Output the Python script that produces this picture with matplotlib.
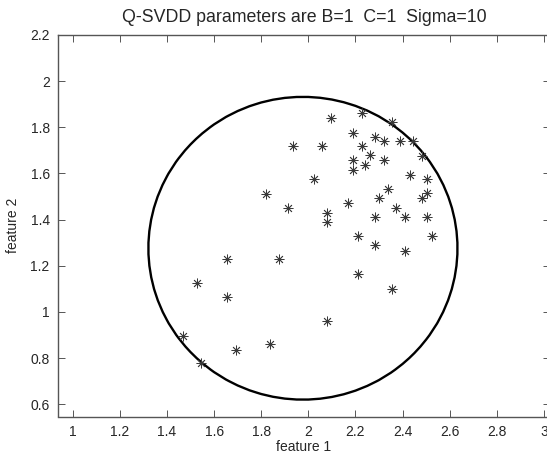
import numpy as np
import matplotlib
matplotlib.use("Agg")
import matplotlib.pyplot as plt

plt.rcParams['font.family'] = ['Liberation Sans', 'DejaVu Sans']

# data points (feature 1, feature 2)
feature1 = [2.097, 2.227, 2.353, 2.188, 1.933, 2.058, 2.281, 2.321, 2.390, 2.445,
            2.227, 2.261, 2.483, 2.188, 2.321, 2.241, 2.188, 2.024, 2.430, 2.502,
            2.338, 2.502, 2.300, 2.483, 2.169, 1.821, 1.915, 2.079, 2.079, 2.372,
            2.281, 2.411, 2.502, 2.209, 2.523, 2.281, 2.411, 1.653, 1.877, 2.209,
            2.353, 1.529, 1.653, 2.079, 1.469, 1.838, 1.693, 1.543]
feature2 = [1.839, 1.861, 1.822, 1.777, 1.719, 1.719, 1.758, 1.740, 1.740, 1.740,
            1.719, 1.679, 1.675, 1.657, 1.657, 1.636, 1.614, 1.575, 1.593, 1.575,
            1.533, 1.514, 1.493, 1.493, 1.472, 1.511, 1.449, 1.430, 1.391, 1.451,
            1.412, 1.412, 1.412, 1.329, 1.329, 1.290, 1.265, 1.228, 1.228, 1.165,
            1.101, 1.127, 1.064, 0.961, 0.897, 0.860, 0.835, 0.778]

# boundary (description sphere) parameters
center = (1.977, 1.276)
radius = 0.656

xticks = [1, 1.2, 1.4, 1.6, 1.8, 2, 2.2, 2.4, 2.6, 2.8, 3]
xticklabels = ['1', '1.2', '1.4', '1.6', '1.8', '2', '2.2', '2.4', '2.6', '2.8', '3']
yticks = [0.6, 0.8, 1, 1.2, 1.4, 1.6, 1.8, 2, 2.2]
yticklabels = ['0.6', '0.8', '1', '1.2', '1.4', '1.6', '1.8', '2', '2.2']

W, H = 547, 457
fig = plt.figure(figsize=(W / 100, H / 100), dpi=100)
left, right, top, bottom = 58, 550, 35, 416.5
ax = fig.add_axes([left / W, (H - bottom) / H, (right - left) / W, (bottom - top) / H])

txt = '#262626'
spine = '#555555'

# boundary via contour of distance function on a coarse grid
gx = np.linspace(1.0, 3.0, 41)
gy = np.linspace(0.4, 2.2, 37)
GX, GY = np.meshgrid(gx, gy)
D = np.sqrt((GX - center[0]) ** 2 + (GY - center[1]) ** 2)
ax.contour(GX, GY, D, levels=[radius], colors='black', linewidths=1.7)

ax.plot(feature1, feature2, linestyle='none', marker=(8, 2, 0), markersize=7,
        markeredgewidth=0.6, color='#3a3a3a')

ax.set_xlim(0.9376, 3.0255)
ax.set_ylim(0.547, 2.2)
ax.set_xticks(xticks)
ax.set_xticklabels(xticklabels)
ax.set_yticks(yticks)
ax.set_yticklabels(yticklabels)

ax.tick_params(direction='in', length=5, width=0.7, colors=spine, labelcolor=txt,
               labelsize=10, top=True, right=True, pad=6)
for s in ax.spines.values():
    s.set_color(spine)
    s.set_linewidth(1.0)

ax.set_xlabel('feature 1', fontsize=10, color=txt, labelpad=1)
ax.set_ylabel('feature 2', fontsize=10, color=txt, labelpad=7)
ax.set_title('Q-SVDD parameters are B=1  C=1  Sigma=10', fontsize=12.8, color=txt, pad=9)

fig.savefig('out.png', dpi=100)
